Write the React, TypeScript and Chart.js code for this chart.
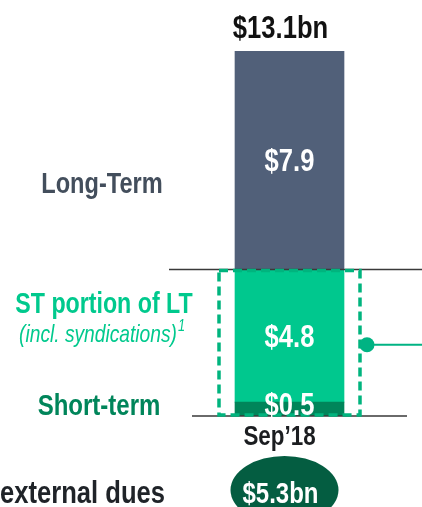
import React, { useEffect, useRef } from "react";
import { Chart, registerables } from "chart.js";

Chart.register(...registerables);

const categories = ["Sep\u201918"];
const shortTerm = [0.5];
const stPortionOfLT = [4.8];
const longTerm = [7.9];
const segmentLabels = [["$0.5"], ["$4.8"], ["$7.9"]];
const totalLabels = ["$13.1bn"];
const externalDues = ["$5.3bn"];
const seriesNames = ["Short-term", "ST portion of LT", "Long-Term"];
const yMax = 13.2;

const FONT = "'Liberation Sans', Arial, sans-serif";
const K = 0.8; // horizontal condensing to mimic a narrow face

function drawText(
  ctx: CanvasRenderingContext2D,
  s: string,
  x: number,
  y: number,
  font: string,
  color: string,
  align: "left" | "center" | "right" = "center"
) {
  ctx.save();
  ctx.font = font;
  ctx.fillStyle = color;
  ctx.textAlign = "left";
  ctx.textBaseline = "alphabetic";
  const w = ctx.measureText(s).width * K;
  const left = align === "center" ? x - w / 2 : align === "right" ? x - w : x;
  ctx.translate(left, y);
  ctx.scale(K, 1);
  ctx.fillText(s, 0, 0);
  ctx.restore();
  return w;
}

const overlayPlugin = {
  id: "overlay",
  afterDatasetsDraw(chart: any) {
    const ctx = chart.ctx as CanvasRenderingContext2D;
    const y = chart.scales.y;
    const metas = [0, 1, 2].map((i) => chart.getDatasetMeta(i));
    const bar = metas[0].data[0];
    const cx = bar.x;
    const half = bar.width / 2;
    const y0 = y.getPixelForValue(0);
    const yST = y.getPixelForValue(shortTerm[0] + stPortionOfLT[0]);
    const yTop = y.getPixelForValue(shortTerm[0] + stPortionOfLT[0] + longTerm[0]);

    ctx.save();
    ctx.strokeStyle = "#3a3a3a";
    ctx.lineWidth = 1.5;
    ctx.beginPath();
    ctx.moveTo(cx - half - 66, yST);
    ctx.lineTo(chart.width, yST);
    ctx.moveTo(cx - half - 43, y0);
    ctx.lineTo(cx + half + 63, y0);
    ctx.stroke();

    ctx.strokeStyle = "#00B47E";
    ctx.lineWidth = 3.5;
    ctx.setLineDash([9, 5]);
    ctx.strokeRect(cx - half - 16, yST + 1, 2 * half + 32, y0 - yST - 2);
    ctx.setLineDash([]);

    const dotX = cx + half + 23;
    const dotY = (yST + y0) / 2 + 2;
    ctx.strokeStyle = "#00B383";
    ctx.lineWidth = 2;
    ctx.beginPath();
    ctx.moveTo(dotX, dotY);
    ctx.lineTo(chart.width, dotY);
    ctx.stroke();
    ctx.fillStyle = "#00B383";
    ctx.beginPath();
    ctx.arc(dotX, dotY, 7.5, 0, Math.PI * 2);
    ctx.fill();
    ctx.restore();

    metas.forEach((m, i) => {
      const el = m.data[0];
      const mid = (el.y + el.base) / 2;
      const off = i === 0 ? 6 : 11;
      drawText(ctx, segmentLabels[i][0], el.x, mid + off, `bold 32px ${FONT}`, "#ffffff");
    });

    drawText(ctx, totalLabels[0], cx - 9, yTop - 13, `bold 32px ${FONT}`, "#111111");
    drawText(ctx, categories[0], cx - 10, y0 + 29, `bold 28px ${FONT}`, "#1b1d20");

    drawText(ctx, seriesNames[2], 102, 193, `bold 29.5px ${FONT}`, "#434e5c");
    drawText(ctx, seriesNames[1], 104, 313, `bold 29px ${FONT}`, "#00C98D");
    ctx.save();
    ctx.font = `italic 24px ${FONT}`;
    const w = ctx.measureText("(incl. syndications)").width * K;
    ctx.restore();
    const sx = 102 - (w + 8) / 2;
    drawText(ctx, "(incl. syndications)", sx, 342, `italic 24px ${FONT}`, "#00C98D", "left");
    drawText(ctx, "1", sx + w + 1, 331, `italic 16px ${FONT}`, "#00C98D", "left");
    drawText(ctx, seriesNames[0], 99, 415, `bold 30px ${FONT}`, "#00855A");

    ctx.save();
    ctx.fillStyle = "#045D41";
    ctx.beginPath();
    ctx.ellipse(cx - 5, 490, 54, 34, 0, 0, Math.PI * 2);
    ctx.fill();
    ctx.restore();
    drawText(ctx, externalDues[0], cx - 9, 503, `bold 30px ${FONT}`, "#ffffff");
    drawText(ctx, "Total external dues", 165, 503, `bold 32px ${FONT}`, "#1F2328", "right");
  },
};

export default function App() {
  const ref = useRef<HTMLCanvasElement>(null);
  useEffect(() => {
    if (!ref.current) return;
    const chart = new Chart(ref.current, {
      type: "bar",
      data: {
        labels: categories,
        datasets: [
          { label: seriesNames[0], data: shortTerm, backgroundColor: "#00855A" },
          { label: seriesNames[1], data: stPortionOfLT, backgroundColor: "#00C88E" },
          { label: seriesNames[2], data: longTerm, backgroundColor: "#516079" },
        ],
      },
      options: {
        responsive: false,
        animation: false,
        devicePixelRatio: 1,
        layout: { padding: { left: 170, right: 13, top: 51, bottom: 91 } },
        datasets: { bar: { barThickness: 109 } },
        plugins: { legend: { display: false }, tooltip: { enabled: false } },
        scales: {
          x: { display: false, stacked: true },
          y: { display: false, stacked: true, min: 0, max: yMax },
        },
      },
      plugins: [overlayPlugin],
    });
    return () => chart.destroy();
  }, []);
  return (
    <div style={{ position: "fixed", left: 0, top: 0, width: 422, height: 507, background: "#fff" }}>
      <canvas ref={ref} width={422} height={507} style={{ display: "block" }} />
    </div>
  );
}
